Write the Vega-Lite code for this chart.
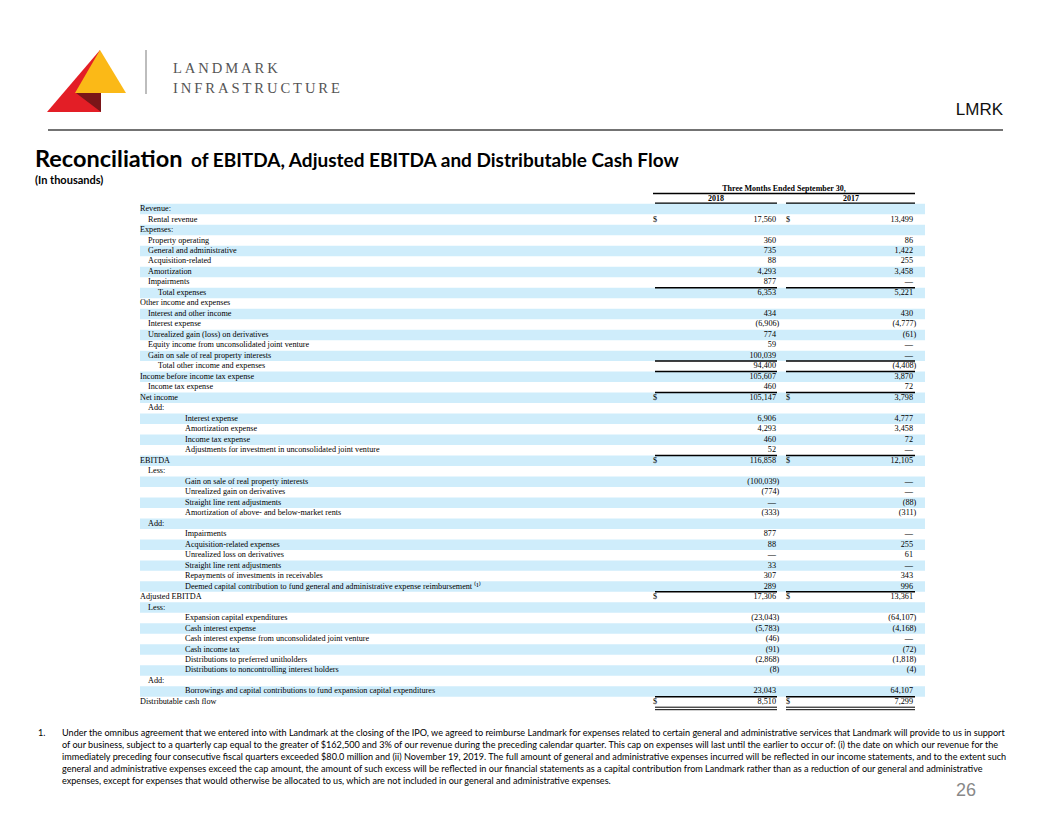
{
  "$schema": "https://vega.github.io/schema/vega-lite/v6.json",
  "width": 1056,
  "height": 816,
  "autosize": {"type": "fit", "contains": "padding"},
  "padding": 0,
  "background": "white",
  "config": {"view": {"stroke": null}, "axis": {"disable": true}},
  "datasets": {
    "rows": [
      {"row": 1, "label": "Revenue:", "level": 0},
      {"row": 2, "label": "Rental revenue", "level": 1, "v2018": 17560, "v2017": 13499, "dollar": true},
      {"row": 3, "label": "Expenses:", "level": 0},
      {"row": 4, "label": "Property operating", "level": 1, "v2018": 360, "v2017": 86},
      {"row": 5, "label": "General and administrative", "level": 1, "v2018": 735, "v2017": 1422},
      {"row": 6, "label": "Acquisition-related", "level": 1, "v2018": 88, "v2017": 255},
      {"row": 7, "label": "Amortization", "level": 1, "v2018": 4293, "v2017": 3458},
      {"row": 8, "label": "Impairments", "level": 1, "v2018": 877, "v2017": 0},
      {"row": 9, "label": "Total expenses", "level": 2, "v2018": 6353, "v2017": 5221, "lineAbove": true},
      {"row": 10, "label": "Other income and expenses", "level": 0},
      {"row": 11, "label": "Interest and other income", "level": 1, "v2018": 434, "v2017": 430},
      {"row": 12, "label": "Interest expense", "level": 1, "v2018": -6906, "v2017": -4777},
      {"row": 13, "label": "Unrealized gain (loss) on derivatives", "level": 1, "v2018": 774, "v2017": -61},
      {"row": 14, "label": "Equity income from unconsolidated joint venture", "level": 1, "v2018": 59, "v2017": 0},
      {"row": 15, "label": "Gain on sale of real property interests", "level": 1, "v2018": 100039, "v2017": 0},
      {"row": 16, "label": "Total other income and expenses", "level": 2, "v2018": 94400, "v2017": -4408, "lineAbove": true},
      {"row": 17, "label": "Income before income tax expense", "level": 0, "v2018": 105607, "v2017": 3870, "lineAbove": true},
      {"row": 18, "label": "Income tax expense", "level": 1, "v2018": 460, "v2017": 72},
      {"row": 19, "label": "Net income", "level": 0, "v2018": 105147, "v2017": 3798, "dollar": true, "lineAbove": true},
      {"row": 20, "label": "Add:", "level": 1},
      {"row": 21, "label": "Interest expense", "level": 3, "v2018": 6906, "v2017": 4777},
      {"row": 22, "label": "Amortization expense", "level": 3, "v2018": 4293, "v2017": 3458},
      {"row": 23, "label": "Income tax expense", "level": 3, "v2018": 460, "v2017": 72},
      {"row": 24, "label": "Adjustments for investment in unconsolidated joint venture", "level": 3, "v2018": 52, "v2017": 0},
      {"row": 25, "label": "EBITDA", "level": 0, "v2018": 116858, "v2017": 12105, "dollar": true, "lineAbove": true},
      {"row": 26, "label": "Less:", "level": 1},
      {"row": 27, "label": "Gain on sale of real property interests", "level": 3, "v2018": -100039, "v2017": 0},
      {"row": 28, "label": "Unrealized gain on derivatives", "level": 3, "v2018": -774, "v2017": 0},
      {"row": 29, "label": "Straight line rent adjustments", "level": 3, "v2018": 0, "v2017": -88},
      {"row": 30, "label": "Amortization of above- and below-market rents", "level": 3, "v2018": -333, "v2017": -311},
      {"row": 31, "label": "Add:", "level": 1},
      {"row": 32, "label": "Impairments", "level": 3, "v2018": 877, "v2017": 0},
      {"row": 33, "label": "Acquisition-related expenses", "level": 3, "v2018": 88, "v2017": 255},
      {"row": 34, "label": "Unrealized loss on derivatives", "level": 3, "v2018": 0, "v2017": 61},
      {"row": 35, "label": "Straight line rent adjustments", "level": 3, "v2018": 33, "v2017": 0},
      {"row": 36, "label": "Repayments of investments in receivables", "level": 3, "v2018": 307, "v2017": 343},
      {"row": 37, "label": "Deemed capital contribution to fund general and administrative expense reimbursement ⁽¹⁾", "level": 3, "v2018": 289, "v2017": 996},
      {"row": 38, "label": "Adjusted EBITDA", "level": 0, "v2018": 17306, "v2017": 13361, "dollar": true, "lineAbove": true},
      {"row": 39, "label": "Less:", "level": 1},
      {"row": 40, "label": "Expansion capital expenditures", "level": 3, "v2018": -23043, "v2017": -64107},
      {"row": 41, "label": "Cash interest expense", "level": 3, "v2018": -5783, "v2017": -4168},
      {"row": 42, "label": "Cash interest expense from unconsolidated joint venture", "level": 3, "v2018": -46, "v2017": 0},
      {"row": 43, "label": "Cash income tax", "level": 3, "v2018": -91, "v2017": -72},
      {"row": 44, "label": "Distributions to preferred unitholders", "level": 3, "v2018": -2868, "v2017": -1818},
      {"row": 45, "label": "Distributions to noncontrolling interest holders", "level": 3, "v2018": -8, "v2017": -4},
      {"row": 46, "label": "Add:", "level": 1},
      {"row": 47, "label": "Borrowings and capital contributions to fund expansion capital expenditures", "level": 3, "v2018": 23043, "v2017": 64107},
      {"row": 48, "label": "Distributable cash flow", "level": 0, "v2018": 8510, "v2017": 7299, "dollar": true, "lineAbove": true}
    ]
  },
  "resolve": {"scale": {"y": "independent"}},
  "layer": [
    {
      "data": {"values": [{}]},
      "layer": [
        {"mark": {"type": "point", "shape": "M0.839,-1L-0.871,1L0.871,1Z", "size": 3844, "filled": true, "color": "#e31e26", "opacity": 1, "strokeWidth": 0},
         "encoding": {"x": {"datum": 74, "type": "quantitative", "scale": {"domain": [0, 1056], "nice": false, "zero": false}}, "y": {"datum": 81, "type": "quantitative", "scale": {"domain": [0, 816], "nice": false, "zero": false, "reverse": true}}}},
        {"mark": {"type": "point", "shape": "M-0.02,-0.843L-1,0.843L1,0.843Z", "size": 2601, "filled": true, "color": "#fbb917", "opacity": 1, "strokeWidth": 0},
         "encoding": {"x": {"datum": 100.5, "type": "quantitative", "scale": {"domain": [0, 1056], "nice": false, "zero": false}}, "y": {"datum": 71.5, "type": "quantitative", "scale": {"domain": [0, 816], "nice": false, "zero": false, "reverse": true}}}},
        {"mark": {"type": "point", "shape": "M-1,-0.76L1,-0.76L1,0.76Z", "size": 625, "filled": true, "color": "#7a1518", "opacity": 1, "strokeWidth": 0},
         "encoding": {"x": {"datum": 88.5, "type": "quantitative", "scale": {"domain": [0, 1056], "nice": false, "zero": false}}, "y": {"datum": 102.5, "type": "quantitative", "scale": {"domain": [0, 816], "nice": false, "zero": false, "reverse": true}}}},
        {"mark": {"type": "rule", "color": "#9a9a9a", "strokeWidth": 1.3},
         "encoding": {"x": {"datum": 146, "type": "quantitative", "scale": {"domain": [0, 1056], "nice": false, "zero": false}}, "y": {"datum": 50, "type": "quantitative", "scale": {"domain": [0, 816], "nice": false, "zero": false, "reverse": true}}, "y2": {"datum": 94}}},
        {"mark": {"type": "text", "align": "left", "baseline": "alphabetic", "font": "Liberation Serif", "fontSize": 14.6, "color": "#555555"},
         "encoding": {"text": {"value": "L\u2009A\u2009N\u2009D\u2009M\u2009A\u2009R\u2009K"}, "x": {"datum": 173, "type": "quantitative", "scale": {"domain": [0, 1056], "nice": false, "zero": false}}, "y": {"datum": 73, "type": "quantitative", "scale": {"domain": [0, 816], "nice": false, "zero": false, "reverse": true}}}},
        {"mark": {"type": "text", "align": "left", "baseline": "alphabetic", "font": "Liberation Serif", "fontSize": 14.6, "color": "#555555"},
         "encoding": {"text": {"value": "I\u2009N\u2009F\u2009R\u2009A\u2009S\u2009T\u2009R\u2009U\u2009C\u2009T\u2009U\u2009R\u2009E"}, "x": {"datum": 173, "type": "quantitative", "scale": {"domain": [0, 1056], "nice": false, "zero": false}}, "y": {"datum": 93, "type": "quantitative", "scale": {"domain": [0, 816], "nice": false, "zero": false, "reverse": true}}}},
        {"mark": {"type": "text", "align": "right", "baseline": "alphabetic", "font": "Liberation Sans", "fontSize": 17, "color": "#111111"},
         "encoding": {"text": {"value": "LMRK"}, "x": {"datum": 1003, "type": "quantitative", "scale": {"domain": [0, 1056], "nice": false, "zero": false}}, "y": {"datum": 115, "type": "quantitative", "scale": {"domain": [0, 816], "nice": false, "zero": false, "reverse": true}}}},
        {"mark": {"type": "rule", "color": "#444444", "strokeWidth": 1.5},
         "encoding": {"x": {"datum": 48, "type": "quantitative", "scale": {"domain": [0, 1056], "nice": false, "zero": false}}, "x2": {"datum": 1003}, "y": {"datum": 130, "type": "quantitative", "scale": {"domain": [0, 816], "nice": false, "zero": false, "reverse": true}}}},
        {"mark": {"type": "text", "align": "left", "baseline": "alphabetic", "font": "Lato", "fontWeight": "bold", "fontSize": 23.5, "color": "#000000"},
         "encoding": {"text": {"value": "Reconciliation"}, "x": {"datum": 35, "type": "quantitative", "scale": {"domain": [0, 1056], "nice": false, "zero": false}}, "y": {"datum": 167, "type": "quantitative", "scale": {"domain": [0, 816], "nice": false, "zero": false, "reverse": true}}}},
        {"mark": {"type": "text", "align": "left", "baseline": "alphabetic", "font": "Lato", "fontWeight": "bold", "fontSize": 19, "color": "#000000"},
         "encoding": {"text": {"value": "of EBITDA, Adjusted EBITDA and Distributable Cash Flow"}, "x": {"datum": 191, "type": "quantitative", "scale": {"domain": [0, 1056], "nice": false, "zero": false}}, "y": {"datum": 167, "type": "quantitative", "scale": {"domain": [0, 816], "nice": false, "zero": false, "reverse": true}}}},
        {"mark": {"type": "text", "align": "left", "baseline": "alphabetic", "font": "Lato", "fontWeight": "bold", "fontSize": 11, "color": "#000000"},
         "encoding": {"text": {"value": "(In thousands)"}, "x": {"datum": 35, "type": "quantitative", "scale": {"domain": [0, 1056], "nice": false, "zero": false}}, "y": {"datum": 184, "type": "quantitative", "scale": {"domain": [0, 816], "nice": false, "zero": false, "reverse": true}}}},
        {"mark": {"type": "text", "align": "center", "baseline": "alphabetic", "font": "Liberation Serif", "fontWeight": "bold", "fontSize": 8, "color": "#000000"},
         "encoding": {"text": {"value": "Three Months Ended September 30,"}, "x": {"datum": 784, "type": "quantitative", "scale": {"domain": [0, 1056], "nice": false, "zero": false}}, "y": {"datum": 190.5, "type": "quantitative", "scale": {"domain": [0, 816], "nice": false, "zero": false, "reverse": true}}}},
        {"mark": {"type": "rule", "color": "#000000", "strokeWidth": 1.5},
         "encoding": {"x": {"datum": 653, "type": "quantitative", "scale": {"domain": [0, 1056], "nice": false, "zero": false}}, "x2": {"datum": 915}, "y": {"datum": 193.5, "type": "quantitative", "scale": {"domain": [0, 816], "nice": false, "zero": false, "reverse": true}}}},
        {"mark": {"type": "text", "align": "center", "baseline": "alphabetic", "font": "Liberation Serif", "fontWeight": "bold", "fontSize": 8, "color": "#000000"},
         "encoding": {"text": {"value": "2018"}, "x": {"datum": 716, "type": "quantitative", "scale": {"domain": [0, 1056], "nice": false, "zero": false}}, "y": {"datum": 200.5, "type": "quantitative", "scale": {"domain": [0, 816], "nice": false, "zero": false, "reverse": true}}}},
        {"mark": {"type": "text", "align": "center", "baseline": "alphabetic", "font": "Liberation Serif", "fontWeight": "bold", "fontSize": 8, "color": "#000000"},
         "encoding": {"text": {"value": "2017"}, "x": {"datum": 851, "type": "quantitative", "scale": {"domain": [0, 1056], "nice": false, "zero": false}}, "y": {"datum": 200.5, "type": "quantitative", "scale": {"domain": [0, 816], "nice": false, "zero": false, "reverse": true}}}},
        {"mark": {"type": "rule", "color": "#000000", "strokeWidth": 1.5},
         "encoding": {"x": {"datum": 655, "type": "quantitative", "scale": {"domain": [0, 1056], "nice": false, "zero": false}}, "x2": {"datum": 777}, "y": {"datum": 203.3, "type": "quantitative", "scale": {"domain": [0, 816], "nice": false, "zero": false, "reverse": true}}}},
        {"mark": {"type": "rule", "color": "#000000", "strokeWidth": 1.5},
         "encoding": {"x": {"datum": 786, "type": "quantitative", "scale": {"domain": [0, 1056], "nice": false, "zero": false}}, "x2": {"datum": 915}, "y": {"datum": 203.3, "type": "quantitative", "scale": {"domain": [0, 816], "nice": false, "zero": false, "reverse": true}}}},
        {"mark": {"type": "text", "align": "left", "baseline": "alphabetic", "font": "Lato", "fontSize": 9.1, "color": "#000000"},
         "encoding": {"text": {"value": "1."}, "x": {"datum": 38, "type": "quantitative", "scale": {"domain": [0, 1056], "nice": false, "zero": false}}, "y": {"datum": 736, "type": "quantitative", "scale": {"domain": [0, 816], "nice": false, "zero": false, "reverse": true}}}},
        {"mark": {"type": "text", "align": "left", "baseline": "alphabetic", "font": "Lato", "fontSize": 9.1, "lineHeight": 12, "color": "#000000"},
         "encoding": {"text": {"value": [
           "Under the omnibus agreement that we entered into with Landmark at the closing of the IPO, we agreed to reimburse Landmark for expenses related to certain general and administrative services that Landmark will provide to us in support",
           "of our business, subject to a quarterly cap equal to the greater of $162,500 and 3% of our revenue during the preceding calendar quarter. This cap on expenses will last until the earlier to occur of: (i) the date on which our revenue for the",
           "immediately preceding four consecutive fiscal quarters exceeded $80.0 million and (ii) November 19, 2019. The full amount of general and administrative expenses incurred will be reflected in our income statements, and to the extent such",
           "general and administrative expenses exceed the cap amount, the amount of such excess will be reflected in our financial statements as a capital contribution from Landmark rather than as a reduction of our general and administrative",
           "expenses, except for expenses that would otherwise be allocated to us, which are not included in our general and administrative expenses."]},
           "x": {"datum": 62, "type": "quantitative", "scale": {"domain": [0, 1056], "nice": false, "zero": false}}, "y": {"datum": 736, "type": "quantitative", "scale": {"domain": [0, 816], "nice": false, "zero": false, "reverse": true}}}},
        {"mark": {"type": "text", "align": "right", "baseline": "alphabetic", "font": "Liberation Sans", "fontSize": 18, "color": "#888888"},
         "encoding": {"text": {"value": "26"}, "x": {"datum": 976, "type": "quantitative", "scale": {"domain": [0, 1056], "nice": false, "zero": false}}, "y": {"datum": 796, "type": "quantitative", "scale": {"domain": [0, 816], "nice": false, "zero": false, "reverse": true}}}}
      ]
    },
    {
      "data": {"name": "rows"},
      "layer": [
        {"transform": [{"filter": "datum.row % 2 === 1"}],
         "mark": {"type": "rect", "color": "#cfedfb"},
         "encoding": {"x": {"datum": 140, "type": "quantitative", "scale": {"domain": [0, 1056], "nice": false, "zero": false}}, "x2": {"datum": 925},
           "y": {"field": "row", "type": "ordinal", "scale": {"type": "band", "domain": [1,2,3,4,5,6,7,8,9,10,11,12,13,14,15,16,17,18,19,20,21,22,23,24,25,26,27,28,29,30,31,32,33,34,35,36,37,38,39,40,41,42,43,44,45,46,47,48], "range": [203.8, 707.2], "paddingInner": 0, "paddingOuter": 0}}}},
        {"transform": [{"filter": "datum.level === 0"}],
         "mark": {"type": "text", "align": "left", "baseline": "middle", "font": "Liberation Serif", "fontSize": 8.2, "color": "#000000"},
         "encoding": {"text": {"field": "label"}, "x": {"datum": 140, "type": "quantitative", "scale": {"domain": [0, 1056], "nice": false, "zero": false}}, "y": {"field": "row", "type": "ordinal"}}},
        {"transform": [{"filter": "datum.level === 1"}],
         "mark": {"type": "text", "align": "left", "baseline": "middle", "font": "Liberation Serif", "fontSize": 8.2, "color": "#000000"},
         "encoding": {"text": {"field": "label"}, "x": {"datum": 148, "type": "quantitative", "scale": {"domain": [0, 1056], "nice": false, "zero": false}}, "y": {"field": "row", "type": "ordinal"}}},
        {"transform": [{"filter": "datum.level === 2"}],
         "mark": {"type": "text", "align": "left", "baseline": "middle", "font": "Liberation Serif", "fontSize": 8.2, "color": "#000000"},
         "encoding": {"text": {"field": "label"}, "x": {"datum": 158, "type": "quantitative", "scale": {"domain": [0, 1056], "nice": false, "zero": false}}, "y": {"field": "row", "type": "ordinal"}}},
        {"transform": [{"filter": "datum.level === 3"}],
         "mark": {"type": "text", "align": "left", "baseline": "middle", "font": "Liberation Serif", "fontSize": 8.2, "color": "#000000"},
         "encoding": {"text": {"field": "label"}, "x": {"datum": 185, "type": "quantitative", "scale": {"domain": [0, 1056], "nice": false, "zero": false}}, "y": {"field": "row", "type": "ordinal"}}},
        {"transform": [{"filter": "datum.dollar === true"}],
         "mark": {"type": "text", "align": "left", "baseline": "middle", "font": "Liberation Serif", "fontSize": 8.2, "color": "#000000"},
         "encoding": {"text": {"value": "$"}, "x": {"datum": 653, "type": "quantitative", "scale": {"domain": [0, 1056], "nice": false, "zero": false}}, "y": {"field": "row", "type": "ordinal"}}},
        {"transform": [{"filter": "datum.dollar === true"}],
         "mark": {"type": "text", "align": "left", "baseline": "middle", "font": "Liberation Serif", "fontSize": 8.2, "color": "#000000"},
         "encoding": {"text": {"value": "$"}, "x": {"datum": 786, "type": "quantitative", "scale": {"domain": [0, 1056], "nice": false, "zero": false}}, "y": {"field": "row", "type": "ordinal"}}},
        {"transform": [{"filter": "isValid(datum.v2018) && datum.v2018 >= 0"}],
         "mark": {"type": "text", "align": "right", "baseline": "middle", "font": "Liberation Serif", "fontSize": 8.2, "color": "#000000"},
         "encoding": {"text": {"condition": {"test": "datum.v2018 === 0", "value": "—"}, "field": "v2018", "type": "quantitative", "format": ","}, "x": {"datum": 776, "type": "quantitative", "scale": {"domain": [0, 1056], "nice": false, "zero": false}}, "y": {"field": "row", "type": "ordinal"}}},
        {"transform": [{"filter": "isValid(datum.v2018) && datum.v2018 < 0"}],
         "mark": {"type": "text", "align": "right", "baseline": "middle", "font": "Liberation Serif", "fontSize": 8.2, "color": "#000000", "dx": 3.3},
         "encoding": {"text": {"field": "v2018", "type": "quantitative", "format": "(,"}, "x": {"datum": 776, "type": "quantitative", "scale": {"domain": [0, 1056], "nice": false, "zero": false}}, "y": {"field": "row", "type": "ordinal"}}},
        {"transform": [{"filter": "isValid(datum.v2017) && datum.v2017 >= 0"}],
         "mark": {"type": "text", "align": "right", "baseline": "middle", "font": "Liberation Serif", "fontSize": 8.2, "color": "#000000"},
         "encoding": {"text": {"condition": {"test": "datum.v2017 === 0", "value": "—"}, "field": "v2017", "type": "quantitative", "format": ","}, "x": {"datum": 913, "type": "quantitative", "scale": {"domain": [0, 1056], "nice": false, "zero": false}}, "y": {"field": "row", "type": "ordinal"}}},
        {"transform": [{"filter": "isValid(datum.v2017) && datum.v2017 < 0"}],
         "mark": {"type": "text", "align": "right", "baseline": "middle", "font": "Liberation Serif", "fontSize": 8.2, "color": "#000000", "dx": 3.3},
         "encoding": {"text": {"field": "v2017", "type": "quantitative", "format": "(,"}, "x": {"datum": 913, "type": "quantitative", "scale": {"domain": [0, 1056], "nice": false, "zero": false}}, "y": {"field": "row", "type": "ordinal"}}},
        {"transform": [{"filter": "datum.lineAbove === true"}],
         "mark": {"type": "rule", "color": "#000000", "strokeWidth": 1.5},
         "encoding": {"x": {"datum": 655, "type": "quantitative", "scale": {"domain": [0, 1056], "nice": false, "zero": false}}, "x2": {"datum": 777}, "y": {"field": "row", "type": "ordinal", "bandPosition": 0}}},
        {"transform": [{"filter": "datum.lineAbove === true"}],
         "mark": {"type": "rule", "color": "#000000", "strokeWidth": 1.5},
         "encoding": {"x": {"datum": 786, "type": "quantitative", "scale": {"domain": [0, 1056], "nice": false, "zero": false}}, "x2": {"datum": 915}, "y": {"field": "row", "type": "ordinal", "bandPosition": 0}}},
        {"transform": [{"filter": "datum.row === 48"}],
         "mark": {"type": "rule", "color": "#000000", "strokeWidth": 1},
         "encoding": {"x": {"datum": 655, "type": "quantitative", "scale": {"domain": [0, 1056], "nice": false, "zero": false}}, "x2": {"datum": 777}, "y": {"field": "row", "type": "ordinal", "bandPosition": 1}}},
        {"transform": [{"filter": "datum.row === 48"}],
         "mark": {"type": "rule", "color": "#000000", "strokeWidth": 1, "yOffset": 2.5},
         "encoding": {"x": {"datum": 655, "type": "quantitative", "scale": {"domain": [0, 1056], "nice": false, "zero": false}}, "x2": {"datum": 777}, "y": {"field": "row", "type": "ordinal", "bandPosition": 1}}},
        {"transform": [{"filter": "datum.row === 48"}],
         "mark": {"type": "rule", "color": "#000000", "strokeWidth": 1},
         "encoding": {"x": {"datum": 786, "type": "quantitative", "scale": {"domain": [0, 1056], "nice": false, "zero": false}}, "x2": {"datum": 915}, "y": {"field": "row", "type": "ordinal", "bandPosition": 1}}},
        {"transform": [{"filter": "datum.row === 48"}],
         "mark": {"type": "rule", "color": "#000000", "strokeWidth": 1, "yOffset": 2.5},
         "encoding": {"x": {"datum": 786, "type": "quantitative", "scale": {"domain": [0, 1056], "nice": false, "zero": false}}, "x2": {"datum": 915}, "y": {"field": "row", "type": "ordinal", "bandPosition": 1}}}
      ]
    }
  ]
}
